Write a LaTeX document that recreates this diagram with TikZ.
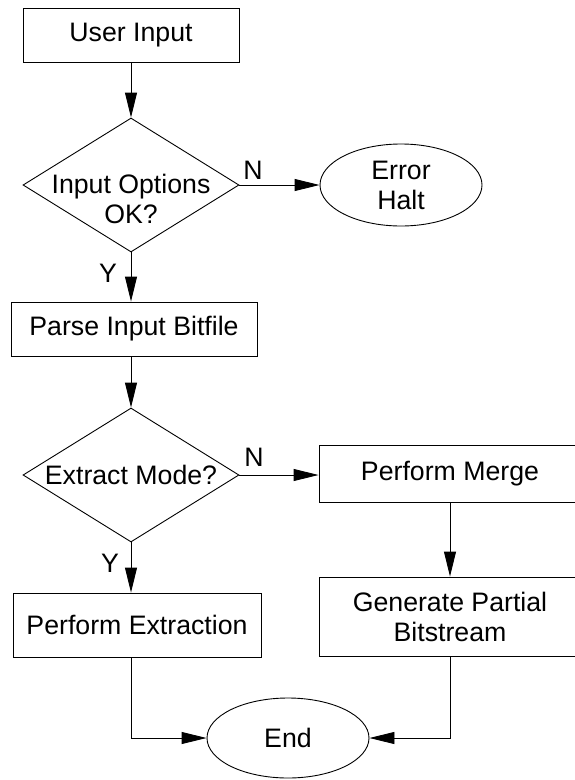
\documentclass[tikz,border=0pt]{standalone}
\usepackage{fontspec}
\setmainfont{Liberation Sans}
\usetikzlibrary{shapes.geometric,arrows.meta}
\begin{document}
\begin{tikzpicture}[x=1pt,y=-1pt,
  every node/.style={font=\fontsize{26.7}{30}\selectfont},
  proc/.style={draw, rectangle, line width=0.9pt, inner sep=0pt, align=center},
  term/.style={draw, ellipse, line width=0.9pt, inner sep=0pt, align=center},
  decision/.style={draw, diamond, line width=0.9pt, inner sep=0pt,
                   minimum width=216pt, minimum height=134pt},
  flow/.style={line width=0.9pt, -{Triangle[length=25pt,width=12pt]}},
  branch/.style={inner sep=0pt}
]
\useasboundingbox (0,0) rectangle (575,780);
\clip (0,0) rectangle (575,780);

% left column
\node[proc, minimum width=216pt, minimum height=54pt] (user) at (131,35) {User Input};
\node[decision] (dec1) at (131,185) {};
\node[align=center, inner sep=0pt] (dec1txt) at (131,198.5) {Input Options\\OK?};
\node[proc, minimum width=246pt, minimum height=54pt] (parse) at (134,329) {Parse Input Bitfile};
\node[decision] (dec2) at (131,475) {};
\node[inner sep=0pt] (dec2txt) at (131,475) {Extract Mode?};
\node[proc, minimum width=248pt, minimum height=64pt] (extr) at (137,625) {Perform Extraction};

% right column
\node[term, minimum width=162pt, minimum height=82pt] (err) at (401,185) {Error\\Halt};
\node[proc, minimum width=262pt, minimum height=57pt] (merge) at (450,473.5) {Perform Merge};
\node[proc, minimum width=262pt, minimum height=79pt] (gen) at (450,616.5) {Generate Partial\\Bitstream};

% terminal
\node[term, minimum width=162pt, minimum height=80pt] (end) at (288,738) {End};

% branch labels
\node[branch] (n1) at (253,170) {N};
\node[branch] (y1) at (108,273) {Y};
\node[branch] (n2) at (254,457) {N};
\node[branch] (y2) at (110,563) {Y};

% connectors
\draw[flow] (user) -- (dec1);
\draw[flow] (dec1.east) -- (dec1.east -| err.west);
\draw[flow] (dec1.south) -- (dec1.south |- parse.north);
\draw[flow] (dec1.south |- parse.south) -- (dec2.north);
\draw[flow] (dec2.east) -- (dec2.east -| merge.west);
\draw[flow] (dec2.south) -- (dec2.south |- extr.north);
\draw[flow] (merge) -- (gen);
\draw[flow] (dec2.south |- extr.south) |- (end.west);
\draw[flow] (gen.south) |- (end.east);
\end{tikzpicture}
\end{document}
